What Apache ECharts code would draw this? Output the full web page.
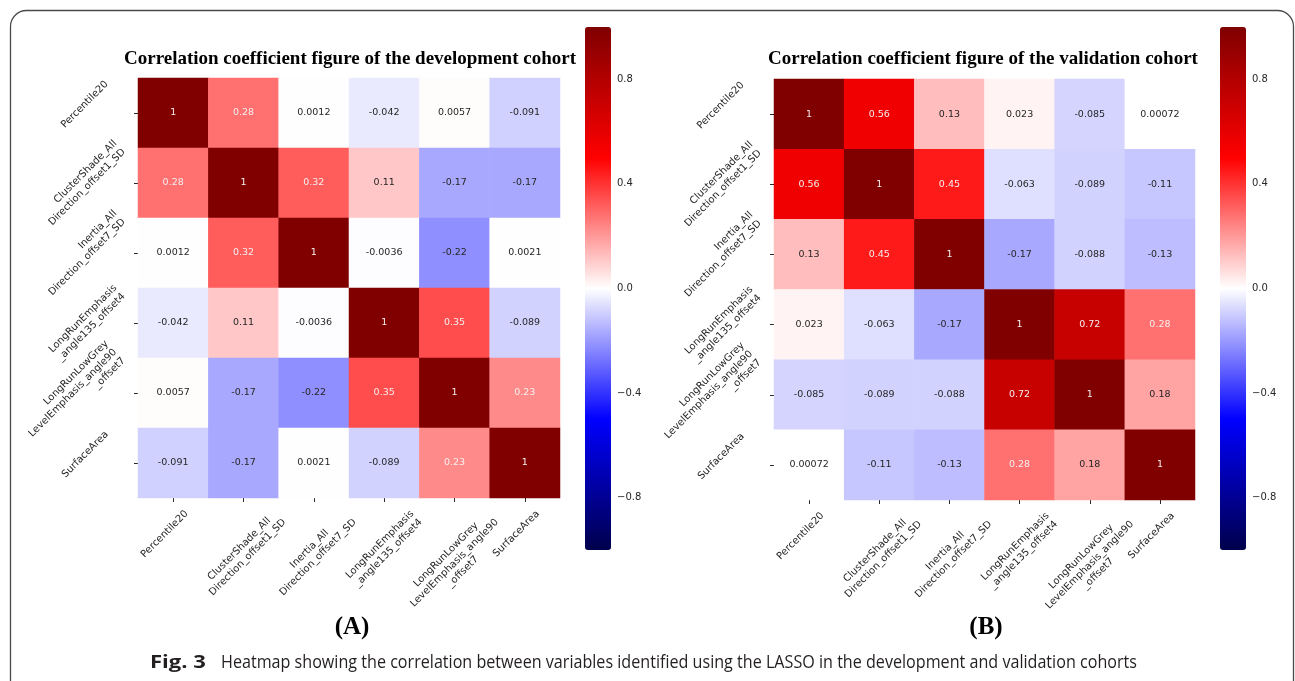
<!DOCTYPE html>
<html>
<head>
<meta charset="utf-8">
<script src="https://cdn.jsdelivr.net/npm/echarts@6/dist/echarts.min.js"></script>
<style>
  html, body { margin: 0; padding: 0; background: #ffffff; }
  #chart { width: 1295px; height: 681px; }
</style>
</head>
<body>
<div id="chart"></div>
<script>
// Variables kept by the LASSO (same order on both axes)
const variables = [
  'Percentile20',
  'ClusterShade_All\nDirection_offset1_SD',
  'Inertia_All\nDirection_offset7_SD',
  'LongRunEmphasis\n_angle135_offset4',
  'LongRunLowGrey\nLevelEmphasis_angle90\n_offset7',
  'SurfaceArea'
];

// Pearson correlation matrix, development cohort (rows top to bottom)
const developmentCorr = [
  [1, 0.28, 0.0012, -0.042, 0.0057, -0.091],
  [0.28, 1, 0.32, 0.11, -0.17, -0.17],
  [0.0012, 0.32, 1, -0.0036, -0.22, 0.0021],
  [-0.042, 0.11, -0.0036, 1, 0.35, -0.089],
  [0.0057, -0.17, -0.22, 0.35, 1, 0.23],
  [-0.091, -0.17, 0.0021, -0.089, 0.23, 1]
];

// Pearson correlation matrix, validation cohort
const validationCorr = [
  [1, 0.56, 0.13, 0.023, -0.085, 0.00072],
  [0.56, 1, 0.45, -0.063, -0.089, -0.11],
  [0.13, 0.45, 1, -0.17, -0.088, -0.13],
  [0.023, -0.063, -0.17, 1, 0.72, 0.28],
  [-0.085, -0.089, -0.088, 0.72, 1, 0.18],
  [0.00072, -0.11, -0.13, 0.28, 0.18, 1]
];

// Colour bar range and ticks
const colorbarRange = [-1, 1];
const colorbarTicks = [-0.8, -0.4, 0, 0.4, 0.8];

const panelTitles = [
  'Correlation coefficient figure of the development cohort',
  'Correlation coefficient figure of the validation cohort'
];
const panelTags = ['(A)', '(B)'];
const figureLabel = 'Fig. 3';
const figureCaption = 'Heatmap showing the correlation between variables identified using the LASSO in the development and validation cohorts';

// "seismic" diverging colormap stops
const seismic = ['#00004c', '#0000ff', '#ffffff', '#ff0000', '#800000'];

const SANS = '"DejaVu Sans"';
const SERIF = '"Liberation Serif", "Times New Roman", serif';
const TICK_FONT = 10;
const TICK_LH = 12;
const TICK_PAD = 10;
const MIN_LINES = 3;          // label blocks are laid out as at least three lines tall
const INK = '#262626';

const measureCtx = document.createElement('canvas').getContext('2d');
function textWidth(s, font) {
  measureCtx.font = font;
  return measureCtx.measureText(s).width;
}

// Size of a tick-label block; short labels keep blank trailing room
function lineBox(name) {
  const lines = name.split('\n');
  const w = Math.max(...lines.map(l => textWidth(l, `${TICK_FONT}px ${SANS}`)));
  const blank = lines.length === 1 ? (MIN_LINES - 1) * TICK_LH : 0;
  return { lines, w, h: lines.length * TICK_LH + blank, blank };
}

const tickBase = { fontSize: TICK_FONT, fontFamily: SANS, color: INK, lineHeight: TICK_LH };

// Rotated (45°) x tick labels: the block is centred on its rotated bounding
// box under the tick, lines centred.
function xTickLabel() {
  const rich = {};
  variables.forEach((name, i) => {
    const { w, h, blank, lines } = lineBox(name);
    const p = 0.5 * (w + h);
    const firstBottom = lines.length === 1 ? blank : 0;
    rich['f' + i] = Object.assign({}, tickBase, {
      align: 'center', padding: [p, p, firstBottom, 0], lineHeight: TICK_LH + p + firstBottom
    });
    rich['o' + i] = Object.assign({}, tickBase, { align: 'center', padding: [0, p, 0, 0] });
  });
  return {
    show: true, interval: 0, rotate: 45, margin: TICK_PAD,
    align: 'center', verticalAlign: 'middle',
    formatter: (v, i) => v.split('\n').map((l, k) => `{${k === 0 ? 'f' : 'o'}${i}|${l}}`).join('\n'),
    rich
  };
}

// Rotated (45°) y tick labels: right-aligned lines, box ending left of the tick
function yTickLabel() {
  const rich = {};
  variables.forEach((name, i) => {
    const { w, h, blank } = lineBox(name);
    const p = 0.5 * (w + h);
    rich['m' + i] = Object.assign({}, tickBase, { align: 'right', padding: [0, p, 0, 0] });
    rich['z' + i] = Object.assign({}, tickBase, {
      align: 'right', padding: [0, p, p + blank, 0], lineHeight: TICK_LH + p + blank
    });
  });
  return {
    show: true, interval: 0, rotate: 45, margin: TICK_PAD,
    align: 'center', verticalAlign: 'middle',
    formatter: (v, i) => {
      const lines = v.split('\n');
      return lines.map((l, k) => `{${k === lines.length - 1 ? 'z' : 'm'}${i}|${l}}`).join('\n');
    },
    rich
  };
}

function cells(matrix) {
  const out = [];
  matrix.forEach((row, r) => row.forEach((v, c) => out.push([c, r, v])));
  return out;
}

// Panel geometry
const panels = [
  { grid: { left: 138, top: 78, width: 422, height: 420 }, bar: { left: 585, top: 27 }, title: 350, tag: 352 },
  { grid: { left: 774, top: 79, width: 421, height: 421 }, bar: { left: 1220, top: 27 }, title: 983, tag: 986 }
];
const BAR_W = 26, BAR_H = 523;

const grids = [], xAxes = [], yAxes = [], series = [], visualMaps = [], titles = [];
[developmentCorr, validationCorr].forEach((matrix, k) => {
  const P = panels[k];
  // heatmap grid
  grids.push(Object.assign({ containLabel: false, outerBoundsMode: 'none' }, P.grid));
  xAxes.push({
    type: 'category', gridIndex: 2 * k, data: variables, position: 'bottom',
    axisLine: { show: false },
    axisTick: { show: true, alignWithLabel: true, length: 4, lineStyle: { color: INK, width: 1 } },
    axisLabel: xTickLabel(), splitLine: { show: false }
  });
  yAxes.push({
    type: 'category', gridIndex: 2 * k, data: variables, inverse: true,
    axisLine: { show: false },
    axisTick: { show: true, alignWithLabel: true, length: 4, lineStyle: { color: INK, width: 1 } },
    axisLabel: yTickLabel(), splitLine: { show: false }
  });
  // colour-bar tick grid
  grids.push({ left: P.bar.left, top: P.bar.top, width: BAR_W, height: BAR_H, containLabel: false, outerBoundsMode: 'none' });
  xAxes.push({ type: 'value', gridIndex: 2 * k + 1, show: false, min: 0, max: 1 });
  yAxes.push({
    type: 'value', gridIndex: 2 * k + 1, position: 'right',
    min: colorbarRange[0], max: colorbarRange[1],
    axisLine: { show: false },
    splitLine: { show: false },
    axisTick: { show: true, length: 4, customValues: colorbarTicks, lineStyle: { color: INK, width: 1 } },
    axisLabel: {
      show: true, margin: 6, fontSize: 10, fontFamily: SANS, color: INK,
      customValues: colorbarTicks,
      formatter: v => (v < 0 ? '\u2212' : '') + Math.abs(v).toFixed(1)
    }
  });
  series.push({
    type: 'heatmap', xAxisIndex: 2 * k, yAxisIndex: 2 * k,
    data: cells(matrix),
    itemStyle: { borderWidth: 0 },
    emphasis: { disabled: true },
    label: {
      show: true, fontSize: 9.5, fontFamily: SANS,
      formatter: p => `{${p.value[2] > 0.2 ? 'l' : 'd'}|${String(p.value[2])}}`,
      rich: { l: { color: '#f4eeee', fontSize: 9.5, fontFamily: SANS }, d: { color: INK, fontSize: 9.5, fontFamily: SANS } }
    }
  });
  visualMaps.push({
    type: 'continuous', seriesIndex: k, min: colorbarRange[0], max: colorbarRange[1],
    calculable: false, hoverLink: false, realtime: false,
    left: P.bar.left, top: P.bar.top, itemWidth: BAR_W, itemHeight: BAR_H,
    padding: 0, text: null, showLabel: false,
    inRange: { color: seismic }
  });
  titles.push({
    text: panelTitles[k], left: P.title, top: 50, textAlign: 'center', padding: 0,
    textStyle: { fontFamily: SERIF, fontWeight: 'bold', fontSize: 19, color: '#000' }
  });
});

const chart = echarts.init(document.getElementById('chart'), null, { renderer: 'canvas' });

// Caption fonts, condensed to the caption line length
const capFont = '18px "Open Sans"';
const capBold = 'bold 18px "Open Sans"';
const capScale = 916 / textWidth(figureCaption, capFont);
const figScale = 56 / textWidth(figureLabel, capBold);

chart.setOption({
  animation: false,
  backgroundColor: '#ffffff',
  textStyle: { fontFamily: SANS },
  title: titles,
  grid: grids,
  xAxis: xAxes,
  yAxis: yAxes,
  visualMap: visualMaps,
  series: series,
  graphic: [
    {
      type: 'rect', silent: true, z: -1,
      shape: { x: 10.5, y: 10.5, width: 1283, height: 690, r: 16 },
      style: { fill: 'none', stroke: '#4a4a4a', lineWidth: 1.3 }
    },
    ...panelTags.map((t, k) => ({
      type: 'text', x: panels[k].tag, y: 628,
      style: { text: t, font: `bold 25px ${SERIF}`, fill: '#000', textAlign: 'center', textVerticalAlign: 'middle' }
    })),
    {
      type: 'text', x: 150, y: 663, scaleX: figScale,
      style: { text: figureLabel, font: capBold, fill: '#231f20', textAlign: 'left', textVerticalAlign: 'middle' }
    },
    {
      type: 'text', x: 221, y: 663, scaleX: capScale,
      style: { text: figureCaption, font: capFont, fill: '#231f20', textAlign: 'left', textVerticalAlign: 'middle' }
    }
  ]
});
</script>
</body>
</html>
